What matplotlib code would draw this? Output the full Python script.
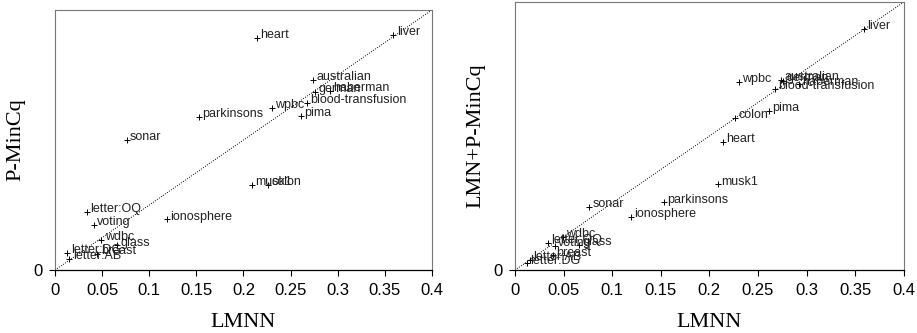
import numpy as np
import matplotlib
matplotlib.use('Agg')
import matplotlib.pyplot as plt

# Data: LMNN error (x) vs other method's error (y)

# Left panel: P-MinCq
left_names = ['heart', 'liver', 'australian', 'german', 'haberman', 'blood-transfusion',
              'wpbc', 'pima', 'parkinsons', 'sonar', 'musk1', 'colon', 'letter:OQ',
              'voting', 'ionosphere', 'wdbc', 'glass', 'letter:DG', 'breast', 'letter:AB']
left_lmnn = [0.214, 0.359, 0.274, 0.276, 0.292, 0.267,
             0.230, 0.261, 0.153, 0.076, 0.209, 0.226, 0.034,
             0.041, 0.119, 0.049, 0.066, 0.013, 0.045, 0.015]
left_pmincq = [0.357, 0.362, 0.292, 0.274, 0.275, 0.257,
               0.250, 0.237, 0.235, 0.200, 0.131, 0.131, 0.089,
               0.069, 0.078, 0.046, 0.038, 0.026, 0.025, 0.017]

# Right panel: LMN+P-MinCq
right_names = ['liver', 'wpbc', 'australian', 'german', 'haberman', 'blood-transfusion',
               'pima', 'colon', 'heart', 'musk1', 'parkinsons', 'sonar', 'ionosphere',
               'wdbc', 'letter:OQ', 'voting', 'glass', 'breast', 'letter:AB', 'letter:DG']
right_lmnn = [0.359, 0.230, 0.274, 0.276, 0.292, 0.267,
              0.261, 0.226, 0.214, 0.209, 0.153, 0.076, 0.119,
              0.049, 0.034, 0.041, 0.066, 0.039, 0.015, 0.012]
right_combo = [0.360, 0.281, 0.284, 0.282, 0.277, 0.270,
               0.237, 0.227, 0.191, 0.128, 0.101, 0.094, 0.079,
               0.049, 0.040, 0.036, 0.037, 0.022, 0.015, 0.010]

xticks = [0, 0.05, 0.1, 0.15, 0.2, 0.25, 0.3, 0.35, 0.4]
xtick_labels = ['0', '0.05', '0.1', '0.15', '0.2', '0.25', '0.3', '0.35', '0.4']

fig = plt.figure(figsize=(9.17, 3.33), dpi=100)
ax1 = fig.add_axes([0.060, 0.189, 0.411, 0.781])
ax2 = fig.add_axes([0.5616, 0.189, 0.424, 0.805])

panels = [
    (ax1, left_names, left_lmnn, left_pmincq, 'P-MinCq'),
    (ax2, right_names, right_lmnn, right_combo, 'LMN+P-MinCq'),
]

for ax, names, xs, ys, ylab in panels:
    ax.plot([0, 0.4], [0, 0.4], color='black', linestyle=(0, (1, 1.5)), linewidth=0.7)
    ax.scatter(xs, ys, marker='+', color='black', s=14, linewidths=0.7, zorder=3)
    for n, x, y in zip(names, xs, ys):
        ax.annotate(n, (x, y), xytext=(2.5, 2), textcoords='offset points',
                    fontsize=9, family='Liberation Sans', va='center', ha='left',
                    color='#222222')
    ax.set_xlim(0, 0.4)
    ax.set_ylim(0, 0.4)
    ax.set_xticks(xticks)
    ax.set_xticklabels(xtick_labels, family='Liberation Sans', fontsize=12)
    ax.set_yticks([0])
    ax.set_yticklabels(['0'], family='Liberation Sans', fontsize=12)
    ax.tick_params(direction='out', length=4, width=0.8, pad=5)
    ax.set_xlabel('LMNN', family='Liberation Serif', fontsize=16, labelpad=11)
    ax.set_ylabel(ylab, family='Liberation Serif', fontsize=16, labelpad=6)
    for side in ['top', 'right', 'left']:
        ax.spines[side].set_color('#777777')
        ax.spines[side].set_linewidth(0.8)
    ax.spines['bottom'].set_color('black')
    ax.spines['bottom'].set_linewidth(0.9)

fig.savefig('out.png', dpi=100)
